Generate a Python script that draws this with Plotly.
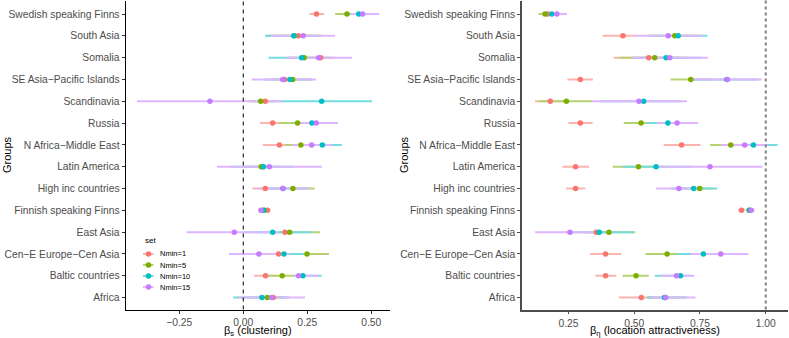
import plotly.graph_objects as go

# groups, bottom to top (ggplot factor order)
groups = ["Africa", "Baltic countries", "Cen\u2212E Europe\u2212Cen Asia", "East Asia",
          "Finnish speaking Finns", "High inc countries", "Latin America",
          "N Africa\u2212Middle East", "Russia", "Scandinavia",
          "SE Asia\u2212Pacific Islands", "Somalia", "South Asia", "Swedish speaking Finns"]

sets = ["Nmin=1", "Nmin=5", "Nmin=10", "Nmin=15"]
colors = ["#F8766D", "#7CAE00", "#00BFC4", "#C77CFF"]

# beta_s (clustering): estimate, lower, upper
bs_1 = [0.117, 0.087, 0.138, 0.163, 0.095, 0.086, 0.075, 0.141, 0.115, 0.086, 0.161, 0.302, 0.215, 0.286]
bs_1_lo = [0.060, 0.042, 0.080, 0.120, 0.085, 0.036, 0.030, 0.076, 0.066, 0.040, 0.120, 0.240, 0.160, 0.258]
bs_1_hi = [0.170, 0.130, 0.190, 0.200, 0.105, 0.140, 0.120, 0.200, 0.165, 0.130, 0.200, 0.360, 0.270, 0.316]

bs_5 = [0.094, 0.152, 0.249, 0.181, 0.082, 0.194, 0.070, 0.225, 0.212, 0.068, 0.193, 0.238, 0.198, 0.405]
bs_5_lo = [0.020, 0.097, 0.160, 0.060, 0.072, 0.120, 0.000, 0.165, 0.141, 0.020, 0.120, 0.170, 0.090, 0.359]
bs_5_hi = [0.160, 0.210, 0.335, 0.300, 0.092, 0.279, 0.140, 0.290, 0.280, 0.120, 0.260, 0.310, 0.300, 0.450]

bs_10 = [0.073, 0.233, 0.159, 0.115, 0.079, 0.155, 0.079, 0.309, 0.268, 0.306, 0.182, 0.228, 0.198, 0.451]
bs_10_lo = [-0.039, 0.200, 0.050, 0.000, 0.069, 0.070, -0.050, 0.230, 0.200, 0.110, 0.080, 0.099, 0.085, 0.410]
bs_10_hi = [0.180, 0.306, 0.250, 0.267, 0.089, 0.250, 0.200, 0.385, 0.340, 0.503, 0.270, 0.340, 0.310, 0.500]

bs_15 = [0.111, 0.216, 0.061, -0.035, 0.069, 0.155, 0.102, 0.267, 0.285, -0.130, 0.154, 0.294, 0.234, 0.466]
bs_15_lo = [-0.020, 0.200, -0.056, -0.221, 0.059, 0.056, -0.103, 0.190, 0.219, -0.415, 0.033, 0.167, 0.108, 0.420]
bs_15_hi = [0.241, 0.295, 0.180, 0.140, 0.080, 0.258, 0.307, 0.349, 0.370, 0.154, 0.284, 0.424, 0.359, 0.531]

# beta_eta (location attractiveness): estimate, lower, upper
be_1 = [0.527, 0.391, 0.391, 0.356, 0.908, 0.277, 0.277, 0.680, 0.295, 0.181, 0.295, 0.555, 0.457, 0.171]
be_1_lo = [0.441, 0.352, 0.333, 0.300, 0.895, 0.241, 0.227, 0.612, 0.250, 0.123, 0.246, 0.422, 0.380, 0.150]
be_1_hi = [0.600, 0.432, 0.450, 0.410, 0.920, 0.314, 0.329, 0.752, 0.342, 0.240, 0.343, 0.680, 0.504, 0.190]

be_5 = [0.617, 0.507, 0.625, 0.404, 0.937, 0.749, 0.516, 0.867, 0.526, 0.242, 0.715, 0.578, 0.654, 0.161]
be_5_lo = [0.550, 0.456, 0.543, 0.310, 0.925, 0.680, 0.418, 0.788, 0.460, 0.136, 0.638, 0.444, 0.550, 0.136]
be_5_hi = [0.690, 0.555, 0.710, 0.504, 0.950, 0.800, 0.620, 0.950, 0.590, 0.339, 0.790, 0.700, 0.750, 0.190]

be_10 = [0.615, 0.676, 0.763, 0.367, 0.939, 0.726, 0.583, 0.953, 0.628, 0.536, 0.852, 0.621, 0.667, 0.187]
be_10_lo = [0.550, 0.578, 0.663, 0.240, 0.927, 0.640, 0.457, 0.860, 0.550, 0.370, 0.730, 0.500, 0.560, 0.160]
be_10_hi = [0.700, 0.720, 0.860, 0.498, 0.951, 0.816, 0.720, 1.045, 0.710, 0.680, 0.970, 0.760, 0.778, 0.220]

be_15 = [0.620, 0.661, 0.829, 0.256, 0.945, 0.670, 0.788, 0.920, 0.663, 0.518, 0.854, 0.635, 0.629, 0.206]
be_15_lo = [0.561, 0.600, 0.714, 0.123, 0.933, 0.583, 0.583, 0.830, 0.587, 0.339, 0.720, 0.492, 0.504, 0.170]
be_15_hi = [0.733, 0.729, 0.934, 0.360, 0.957, 0.740, 0.988, 1.007, 0.743, 0.701, 0.985, 0.780, 0.759, 0.244]

left = [(bs_1, bs_1_lo, bs_1_hi), (bs_5, bs_5_lo, bs_5_hi),
        (bs_10, bs_10_lo, bs_10_hi), (bs_15, bs_15_lo, bs_15_hi)]
right = [(be_1, be_1_lo, be_1_hi), (be_5, be_5_lo, be_5_hi),
         (be_10, be_10_lo, be_10_hi), (be_15, be_15_lo, be_15_hi)]


def tint(hex_col, a=0.55):
    # colour at alpha a over white, as an opaque colour
    h = hex_col.lstrip("#")
    rgb = [int(h[i:i + 2], 16) for i in (0, 2, 4)]
    return "rgb(%d,%d,%d)" % tuple(round(c * a + 255 * (1 - a)) for c in rgb)


fig = go.Figure()

for panel, (xa, ya) in zip([left, right], [("x", "y"), ("x2", "y2")]):
    # interval lines first (all sets), then points on top, like ggplot layers
    for (est, lo, hi), col in zip(panel, colors):
        xs, ys = [], []
        for g, l, h in zip(groups, lo, hi):
            xs += [l, h, None]
            ys += [g, g, None]
        fig.add_trace(go.Scatter(x=xs, y=ys, mode="lines", xaxis=xa, yaxis=ya,
                                 line=dict(color=tint(col), width=2),
                                 showlegend=False, hoverinfo="skip"))
    for (est, lo, hi), col, name in zip(panel, colors, sets):
        fig.add_trace(go.Scatter(x=est, y=groups, mode="markers", xaxis=xa, yaxis=ya,
                                 marker=dict(color=col, size=5.5), name=name,
                                 showlegend=False))

W, H = 789, 338
font = "Liberation Sans, Arial, sans-serif"

axis_common = dict(showline=True, ticks="outside", ticklen=3, tickwidth=1,
                   showgrid=False, zeroline=False, automargin=False,
                   tickfont=dict(family=font, size=10.3, color="#4D4D4D"))

fig.update_layout(
    width=W, height=H,
    margin=dict(l=0, r=0, t=0, b=0),
    plot_bgcolor="white", paper_bgcolor="white",
    font=dict(family=font),
    xaxis=dict(domain=[125.7 / W, 390 / W], range=[-0.459, 0.573],
               tickvals=[-0.25, 0, 0.25, 0.5], ticktext=["\u22120.25", "0.00", "0.25", "0.50"],
               linecolor="black", linewidth=1.2, tickcolor="#333333",
               **axis_common),
    yaxis=dict(domain=[1 - 309.5 / H, 1 - 0.5 / H], range=[-0.545, 13.62],
               type="category", categoryorder="array", categoryarray=groups,
               linecolor="black", linewidth=1.2, tickcolor="#333333",
               **axis_common),
    xaxis2=dict(domain=[522 / W, 788 / W], range=[0.0734, 1.0846], anchor="y2",
                tickvals=[0.25, 0.5, 0.75, 1.0], ticktext=["0.25", "0.50", "0.75", "1.00"],
                linecolor="#4D4D4D", linewidth=1.5, tickcolor="#4D4D4D",
                **axis_common),
    yaxis2=dict(domain=[1 - 309.5 / H, 1 - 0.5 / H], range=[-0.545, 13.62], anchor="x2",
                type="category", categoryorder="array", categoryarray=groups,
                linecolor="#4D4D4D", linewidth=1.5, tickcolor="#4D4D4D",
                **axis_common),
)

# axis titles placed where ggplot puts them
title_font = dict(family=font, size=11, color="black")
fig.add_annotation(x=257.8 / W, y=1 - 330.5 / H, xref="paper", yref="paper",
                   text="\u03b2<sub>s</sub> (clustering)", showarrow=False,
                   xanchor="center", yanchor="middle", font=title_font)
fig.add_annotation(x=655 / W, y=1 - 330.5 / H, xref="paper", yref="paper",
                   text="\u03b2<sub>\u03b7</sub> (location attractiveness)", showarrow=False,
                   xanchor="center", yanchor="middle", font=title_font)
for xp in [7, 404]:
    fig.add_annotation(x=xp / W, y=1 - 155 / H, xref="paper", yref="paper",
                       text="Groups", showarrow=False, textangle=-90,
                       xanchor="center", yanchor="middle", font=title_font)

# reference lines
fig.add_vline(x=0, line=dict(color="black", width=1, dash="4px,4px"), xref="x", yref="y")
fig.add_vline(x=1, line=dict(color="#7F7F7F", width=2, dash="3px,3px"), xref="x2", yref="y2")

# legend drawn inside the left panel, ggplot style
fig.add_annotation(x=143 / W, y=1 - 240.7 / H, xref="paper", yref="paper", text="set",
                   showarrow=False, xanchor="left", yanchor="middle",
                   font=dict(size=8, color="black"))
for i, (name, col) in enumerate(zip(sets, colors)):
    yp = 1 - (254 + 11 * i) / H
    fig.add_shape(type="line", xref="paper", yref="paper", x0=143 / W, x1=153.5 / W,
                  y0=yp, y1=yp, line=dict(color=tint(col), width=2))
    fig.add_shape(type="circle", xref="paper", yref="paper", xsizemode="pixel",
                  ysizemode="pixel", xanchor=148.5 / W, yanchor=yp,
                  x0=-2.75, x1=2.75, y0=-2.75, y1=2.75,
                  fillcolor=col, line=dict(width=0))
    fig.add_annotation(x=158 / W, y=yp, xref="paper", yref="paper", text=name,
                       showarrow=False, xanchor="left", yanchor="middle",
                       font=dict(size=7.5, color="black"))

# the page has a default 8px body margin; drop it so the figure fills the window
fig.write_html("out.html", config={"displayModeBar": False},
               post_script="document.body.style.margin='0';document.body.style.overflow='hidden';")
